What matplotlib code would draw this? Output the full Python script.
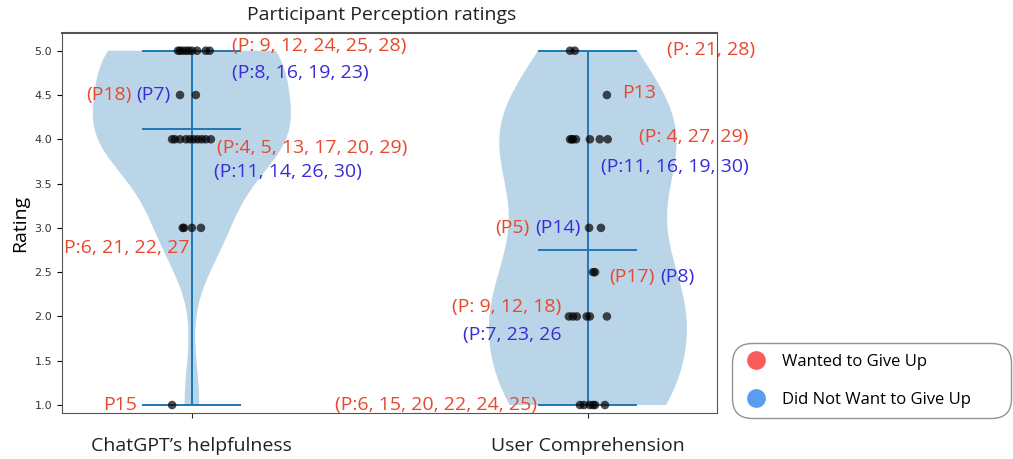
import matplotlib.pyplot as plt
from matplotlib.lines import Line2D

plt.rcParams['font.family'] = ['Open Sans', 'DejaVu Sans']

RED = '#e8482c'
BLUE = '#3a2bd8'

# ===== Data =====
categories = ["ChatGPT’s helpfulness", "User Comprehension"]

helpful_ratings = [5.0] * 9 + [4.5] * 2 + [4.0] * 10 + [3.0] * 4 + [1.0]
comprehension_ratings = [5.0] * 2 + [4.5] + [4.0] * 7 + [3.0] * 2 + [2.5] * 2 + [2.0] * 6 + [1.0] * 6

# horizontal jitter of the dots (as seen in the picture)
helpful_jitter = [-0.035, -0.03, -0.023, -0.015, -0.008, 0.0, 0.013, 0.035, 0.045,
                  -0.03, 0.01,
                  -0.05, -0.043, -0.03, -0.015, -0.005, 0.005, 0.015, 0.025, 0.035, 0.048,
                  -0.023, -0.02, 0.0, 0.023,
                  -0.05]
comprehension_jitter = [-0.045, -0.033,
                        0.048,
                        -0.045, -0.04, -0.038, -0.03, 0.005, 0.03, 0.05,
                        0.003, 0.033,
                        0.013, 0.018,
                        -0.048, -0.038, -0.028, -0.003, 0.005, 0.048,
                        -0.02, -0.01, 0.005, 0.013, 0.018, 0.043]

# annotations: (x, y, text, colour, ha)
annotations = [
    (1.101, 5.05, "(P: 9, 12, 24, 25, 28)", RED, 'left'),
    (1.101, 4.745, "(P:8, 16, 19, 23)", BLUE, 'left'),
    (0.732, 4.5, "(P18)", RED, 'left'),
    (0.859, 4.5, "(P7)", BLUE, 'left'),
    (1.063, 3.90, "(P:4, 5, 13, 17, 20, 29)", RED, 'left'),
    (1.056, 3.63, "(P:11, 14, 26, 30)", BLUE, 'left'),
    (0.677, 2.77, "P:6, 21, 22, 27", RED, 'left'),
    (0.861, 1.0, "P15", RED, 'right'),
    (1.871, 1.0, "(P:6, 15, 20, 22, 24, 25)", RED, 'right'),
    (2.199, 5.01, "(P: 21, 28)", RED, 'left'),
    (2.086, 4.52, "P13", RED, 'left'),
    (2.129, 4.03, "(P: 4, 27, 29)", RED, 'left'),
    (2.033, 3.69, "(P:11, 16, 19, 30)", BLUE, 'left'),
    (1.765, 3.0, "(P5)", RED, 'left'),
    (1.866, 3.0, "(P14)", BLUE, 'left'),
    (2.053, 2.45, "(P17)", RED, 'left'),
    (2.182, 2.45, "(P8)", BLUE, 'left'),
    (1.657, 2.11, "(P: 9, 12, 18)", RED, 'left'),
    (1.684, 1.79, "(P:7, 23, 26", BLUE, 'left'),
]

# ===== Figure =====
fig = plt.figure(figsize=(10.13, 4.59), dpi=100)
ax = fig.add_axes([62 / 1013, 1 - 413 / 459, (717 - 62) / 1013, (413 - 33) / 459])

parts = ax.violinplot([helpful_ratings, comprehension_ratings], positions=[1, 2],
                      showmeans=True, widths=0.5)
for b in parts['bodies']:
    b.set_facecolor('#1f77b4')
    b.set_edgecolor('none')
    b.set_alpha(0.3)
for key in ('cmeans', 'cmins', 'cmaxes', 'cbars'):
    parts[key].set_color('#1f77b4')
    parts[key].set_linewidth(1.4)

for pos, vals, jit in [(1, helpful_ratings, helpful_jitter),
                       (2, comprehension_ratings, comprehension_jitter)]:
    ax.scatter([pos + j for j in jit], vals, s=38, color='black', alpha=0.7,
               edgecolors='none', zorder=3)

for x, y, t, c, ha in annotations:
    ax.text(x, y, t, color=c, fontsize=14, ha=ha, va='center', zorder=4,
            clip_on=False)

ax.set_xlim(0.672, 2.326)
ax.set_ylim(0.91, 5.2)
ax.set_xticks([1, 2])
ax.set_xticklabels(categories, fontsize=14)
ax.set_yticks([1.0, 1.5, 2.0, 2.5, 3.0, 3.5, 4.0, 4.5, 5.0])
ax.set_yticklabels([f"{v:.1f}" for v in ax.get_yticks()], fontsize=8,
                   family='DejaVu Sans', color='#333333')
ax.set_ylabel('Rating', fontsize=14)
ax.tick_params(axis='x', pad=14, colors='#222222')
for s in ax.spines.values():
    s.set_color('#555555')
ax.spines['top'].set_linewidth(1.5)

fig.text(382 / 1013, 1 - 15 / 459, 'Participant Perception ratings',
         fontsize=14, ha='center', va='center', color='#222222')

legend_elems = [
    Line2D([0], [0], marker='o', color='w', label='Wanted to Give Up',
           markerfacecolor='#f95c5c', markersize=14.5),
    Line2D([0], [0], marker='o', color='w', label='Did Not Want to Give Up',
           markerfacecolor='#5b9bf0', markersize=14.5),
]
leg = fig.legend(handles=legend_elems, loc='lower left', mode='expand',
                 bbox_to_anchor=(735 / 1013, 1 - 415 / 459, 273 / 1013, 71 / 459),
                 fontsize=12, frameon=True, fancybox=True, edgecolor='#777777',
                 handlelength=1.6, handletextpad=0.75, borderpad=0.45,
                 labelspacing=1.3, borderaxespad=0)
leg.get_frame().set_linewidth(1.0)
leg.get_frame().set_boxstyle('round', pad=0.2, rounding_size=1.2)

fig.savefig('out.png', dpi=100)
